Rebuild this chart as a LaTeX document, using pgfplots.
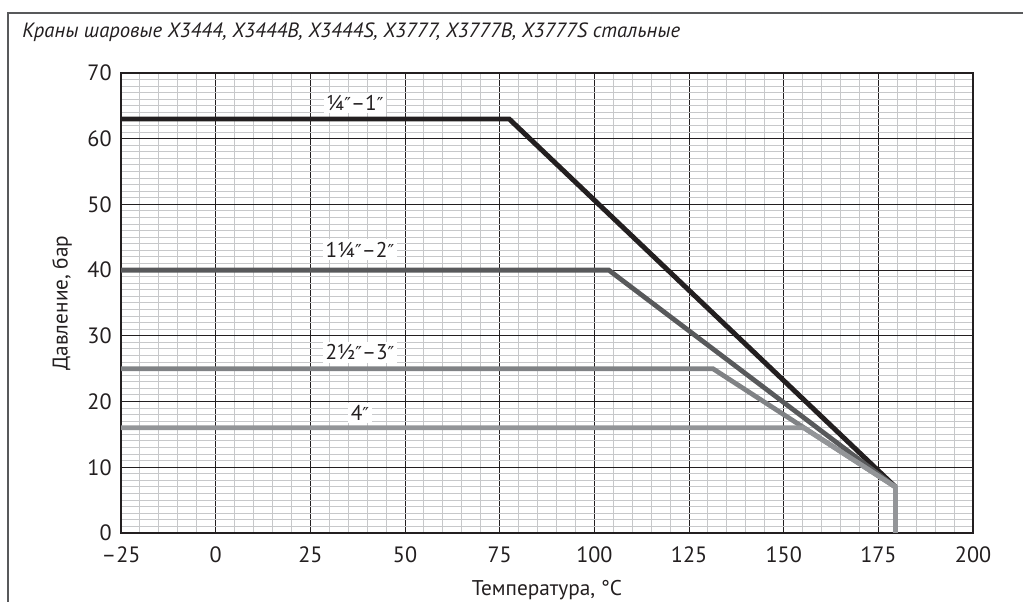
\documentclass[border=0pt]{standalone}
\usepackage{fontspec}
\setmainfont{PT Sans}
\newfontfamily\symf{DejaVu Sans}
\usepackage{pgfplots}
\pgfplotsset{compat=1.18}

\definecolor{cBlack}{HTML}{231F20}
\definecolor{cDark}{HTML}{58595B}
\definecolor{cMid}{HTML}{808285}
\definecolor{cLight}{HTML}{939598}
\definecolor{cGrid}{HTML}{C7C8CA}

\newcommand{\inch}{{\symf\fontsize{10.5}{12}\selectfont ″}}

\begin{document}
\begin{tikzpicture}
\path[use as bounding box] (-71pt,-39.9pt) rectangle (529pt,312.6pt);

% outer frame (top and left)
\draw[cDark, line width=0.9pt] (535pt,305pt) -- (-66.3pt,305pt) -- (-66.3pt,-45pt);
\node[anchor=west, inner sep=0pt, text=cBlack, font=\itshape\fontsize{12.1}{14}\selectfont]
  at (-58.1pt,293.8pt) {Краны шаровые X3444, X3444B, X3444S, X3777, X3777B, X3777S стальные};

\begin{axis}[
  scale only axis,
  width=499.7pt, height=269.8pt,
  xmin=-25, xmax=200, ymin=0, ymax=70,
  xtick={-25,0,25,50,75,100,125,150,175,200},
  xticklabels={{–25},0,25,50,75,100,125,150,175,200},
  ytick={0,10,20,30,40,50,60,70},
  yticklabels={0,10,20,30,40,50,60,70},
  minor x tick num=4,
  minor y tick num=9,
  major tick length=0pt, minor tick length=0pt,
  grid=both,
  minor grid style={cGrid, line width=0.6pt},
  major grid style={cBlack, line width=0.6pt},
  axis line style={cBlack, line width=0.8pt},
  tick label style={text=cBlack, font=\fontsize{13}{15}\selectfont},
  xticklabel style={yshift=-4.5pt},
  yticklabel style={xshift=-2pt},
  xlabel={Температура, °C},
  ylabel={Давление, бар},
  label style={text=cBlack, font=\fontsize{12.5}{14}\selectfont},
  xlabel style={at={(axis description cs:0.5,0)}, anchor=center, yshift=-33.5pt},
  ylabel style={at={(axis description cs:0,0.5)}, anchor=center, yshift=34.6pt},
  every axis plot/.append style={line join=miter},
]
\addplot[cBlack, line width=2.9pt] coordinates {(-25,63) (77.5,63) (179.5,7)};
\addplot[cDark, line width=2.8pt] coordinates {(-25,40) (103.8,40) (179.5,7)};
\addplot[cMid, line width=2.8pt] coordinates {(-25,25) (131.3,25) (179.5,7)};
\addplot[cLight, line width=2.8pt] coordinates {(-25,16) (155.3,16) (179.5,7) (179.5,0)};

\node[fill=white, inner sep=1.5pt, text=cBlack, font=\fontsize{12.5}{14}\selectfont] at (axis cs:36.8,65.4) {¼\inch–1\inch};
\node[fill=white, inner sep=1.5pt, text=cBlack, font=\fontsize{12.5}{14}\selectfont] at (axis cs:38.1,43.1) {1¼\inch–2\inch};
\node[fill=white, inner sep=1.5pt, text=cBlack, font=\fontsize{12.5}{14}\selectfont] at (axis cs:38.1,27.5) {2½\inch–3\inch};
\node[fill=white, inner sep=1.5pt, text=cBlack, font=\fontsize{12.5}{14}\selectfont] at (axis cs:38.1,18.3) {4\inch};
\end{axis}
\end{tikzpicture}
\end{document}
